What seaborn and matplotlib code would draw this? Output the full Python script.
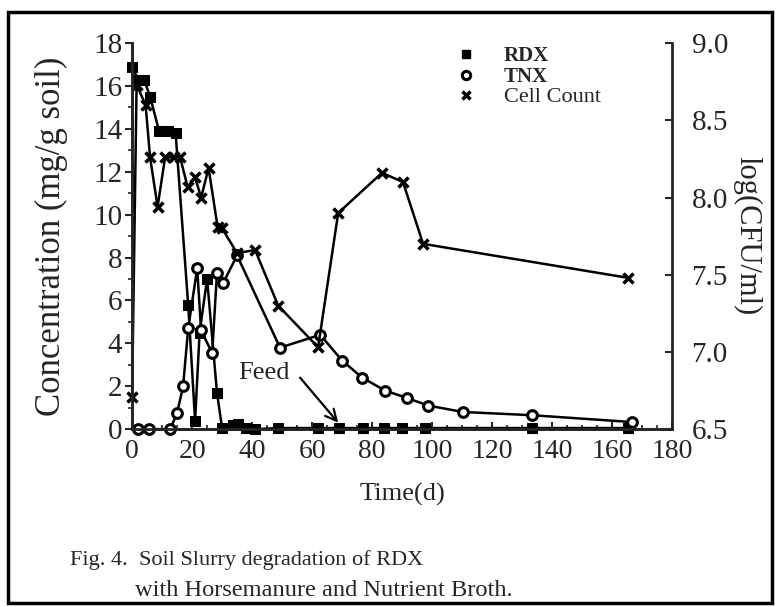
import matplotlib
matplotlib.use("Agg")
import matplotlib.pyplot as plt
import seaborn as sns
import pandas as pd
from matplotlib.lines import Line2D
from matplotlib.patches import Rectangle
from matplotlib.ticker import MultipleLocator

# values
rdx_day = [0, 2, 4, 6, 9, 12, 14.5, 18.7, 21, 22.5, 25, 28.3, 30, 33.5, 35.3, 38, 41,
           48.5, 62, 69, 77, 84, 90, 97.5, 133.3, 165.3]
rdx_conc = [16.9, 16.3, 16.3, 15.5, 13.9, 13.9, 13.8, 5.8, 0.4, 4.5, 7.0, 1.7, 0.05, 0.2,
            0.25, 0.05, 0.0, 0.05, 0.05, 0.05, 0.05, 0.05, 0.05, 0.05, 0.05, 0.05]

tnx_day = [2, 5.5, 12.7, 15, 17, 18.7, 21.7, 23, 26.7, 28.3, 30.3, 35, 49.3, 62.7, 70,
           76.7, 84.3, 91.7, 98.7, 110.3, 133.3, 166.7]
tnx_conc = [0, 0, 0, 0.75, 2.0, 4.7, 7.5, 4.6, 3.55, 7.3, 6.8, 8.1, 3.8, 4.4, 3.2,
            2.4, 1.8, 1.45, 1.1, 0.8, 0.65, 0.33]

cell_day = [0, 1.5, 4.5, 6, 8.5, 11, 14, 16, 18.5, 21, 23, 25.5, 28.5, 30, 35, 41,
            48.7, 62, 68.7, 83.3, 90.3, 97, 165.3]
cell_log = [6.71, 8.73, 8.60, 8.26, 7.94, 8.26, 8.26, 8.26, 8.07, 8.13, 8.00, 8.19,
            7.81, 7.80, 7.64, 7.66, 7.30, 7.03, 7.90, 8.16, 8.10, 7.70, 7.48]

rdx = pd.DataFrame({"day": rdx_day, "conc": rdx_conc})
tnx = pd.DataFrame({"day": tnx_day, "conc": tnx_conc})
cell = pd.DataFrame({"day": cell_day, "log": cell_log})

sns.set_style("ticks")
plt.rcParams["font.family"] = ["Liberation Serif", "DejaVu Serif"]

fig = plt.figure(figsize=(7.77, 6.07), dpi=100)
ax = fig.add_axes([0.170, 0.293, 0.695, 0.636])
ax2 = ax.twinx()

sns.lineplot(data=rdx, x="day", y="conc", ax=ax, sort=False, estimator=None,
             color="black", lw=1.8, marker="s", ms=7, mfc="black", mec="black",
             clip_on=False, zorder=3)
sns.lineplot(data=tnx, x="day", y="conc", ax=ax, sort=False, estimator=None,
             color="black", lw=1.8, marker="o", ms=7, mfc="white", mec="black",
             mew=2.2, clip_on=False, zorder=4)
sns.lineplot(data=cell, x="day", y="log", ax=ax2, sort=False, estimator=None,
             color="black", lw=1.8, marker="x", ms=7, mew=2.5, mec="black",
             clip_on=False)

ax.set_xlim(0, 180)
ax.set_ylim(0, 18)
ax2.set_ylim(6.5, 9.0)

ax.xaxis.set_major_locator(MultipleLocator(20))
ax.xaxis.set_minor_locator(MultipleLocator(5))
ax.yaxis.set_major_locator(MultipleLocator(2))
ax.yaxis.set_minor_locator(MultipleLocator(1))
ax2.yaxis.set_major_locator(MultipleLocator(0.5))

ax.tick_params(axis="x", direction="in", length=5, width=1.5, labelsize=20, pad=7)
ax.tick_params(axis="x", which="minor", direction="in", length=3, width=1.2)
ax.tick_params(axis="y", direction="out", length=5, width=1.5, labelsize=21, pad=2)
ax.tick_params(axis="y", which="minor", direction="out", length=3, width=1.2)
ax2.tick_params(axis="y", direction="in", length=5, width=1.5, labelsize=21, pad=14)
ax2.set_yticklabels([f"{v:.1f}" for v in ax2.get_yticks()])

for a in (ax, ax2):
    a.spines["top"].set_visible(False)
    for s in ("left", "bottom", "right"):
        a.spines[s].set_linewidth(2)
ax.spines["right"].set_visible(False)

ax.set_xlabel("Time(d)", fontsize=19, labelpad=14)
ax.set_ylabel("Concentration (mg/g soil)", fontsize=25, labelpad=18)
ax2.set_ylabel("log(CFU/ml)", fontsize=22, rotation=-90, labelpad=24)

ax.text(44, 2.6, "Feed", fontsize=19, ha="center", va="center")
ax.annotate("", xy=(68.7, 0.3), xytext=(56, 2.4),
            arrowprops=dict(arrowstyle="->", color="black", lw=1.6,
                            shrinkA=0, shrinkB=0, mutation_scale=20))

handles = [
    Line2D([], [], ls="none", marker="s", ms=6, color="black"),
    Line2D([], [], ls="none", marker="o", ms=6, mfc="white", mec="black", mew=2.2),
    Line2D([], [], ls="none", marker="x", ms=6, mew=2.5, color="black"),
]
leg = ax.legend(handles, ["RDX", "TNX", "Cell Count"], loc="upper left",
                bbox_to_anchor=(0.58, 1.02), frameon=False, fontsize=15,
                borderpad=0, handlelength=1.0, handletextpad=1.3, labelspacing=0.05)
for t in leg.get_texts()[:2]:
    t.set_fontweight("bold")
leg.get_texts()[2].set_fontsize(16)

fig.text(0.09, 0.077, "Fig. 4.  Soil Slurry degradation of RDX", fontsize=16,
         ha="left", va="center")
fig.text(0.174, 0.028, "with Horsemanure and Nutrient Broth.", fontsize=17.6,
         ha="left", va="center")

fig.patches.append(Rectangle((0.010, 0.007), 0.984, 0.973, transform=fig.transFigure,
                             fill=False, lw=2.5, ec="black"))

fig.savefig("out.png", dpi=100)
